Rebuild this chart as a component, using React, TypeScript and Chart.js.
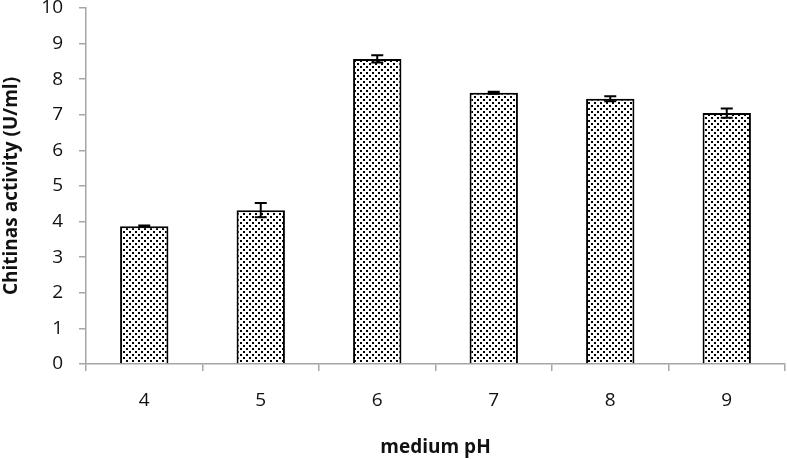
import React, { useEffect, useRef } from 'react';
import { Chart, registerables } from 'chart.js';
Chart.register(...registerables);

const categories = ['4', '5', '6', '7', '8', '9'];
const activity = [3.87, 4.32, 8.57, 7.62, 7.45, 7.05];
const errors = [0.02, 0.2, 0.1, 0.03, 0.07, 0.13];
const yTicks = [0, 1, 2, 3, 4, 5, 6, 7, 8, 9, 10];

const FONT = '"Open Sans", Lato, sans-serif';
const AXIS_GREY = '#a6a6a6';

function makePattern(): CanvasPattern | string {
  const c = document.createElement('canvas');
  c.width = 6;
  c.height = 6;
  const ctx = c.getContext('2d');
  if (!ctx) return '#ddd';
  ctx.fillStyle = '#ffffff';
  ctx.fillRect(0, 0, 6, 6);
  ctx.fillStyle = '#000000';
  ctx.fillRect(0, 0, 2, 2);
  ctx.fillRect(3, 3, 2, 2);
  const p = ctx.createPattern(c, 'repeat');
  return p || '#ddd';
}

const errorBarPlugin = {
  id: 'errorBars',
  afterDatasetsDraw(chart: any) {
    const ctx = chart.ctx;
    const meta = chart.getDatasetMeta(0);
    const yScale = chart.scales.y;
    ctx.save();
    ctx.strokeStyle = '#000';
    ctx.lineWidth = 2;
    meta.data.forEach((el: any, i: number) => {
      const v = activity[i];
      const e = errors[i];
      const x = el.x;
      const yt = yScale.getPixelForValue(v + e);
      const yb = yScale.getPixelForValue(v - e);
      ctx.beginPath();
      ctx.moveTo(x, yt);
      ctx.lineTo(x, yb);
      ctx.moveTo(x - 6, yt);
      ctx.lineTo(x + 6, yt);
      ctx.moveTo(x - 6, yb);
      ctx.lineTo(x + 6, yb);
      ctx.stroke();
    });
    ctx.restore();
  },
};

export default function App() {
  const ref = useRef<HTMLCanvasElement>(null);
  useEffect(() => {
    if (!ref.current) return;
    const chart = new Chart(ref.current, {
      type: 'bar',
      data: {
        labels: categories,
        datasets: [
          {
            data: activity,
            backgroundColor: makePattern() as any,
            borderColor: '#000',
            borderWidth: 2,
            barPercentage: 0.415,
            categoryPercentage: 1,
          },
        ],
      },
      options: {
        animation: false,
        responsive: true,
        maintainAspectRatio: false,
        layout: { padding: { left: 0, right: 2, top: 0, bottom: 0 } },
        plugins: {
          legend: { display: false },
          tooltip: { enabled: false },
        },
        scales: {
          x: {
            grid: {
              display: true,
              drawOnChartArea: false,
              drawTicks: true,
              tickLength: 7,
              color: AXIS_GREY,
              lineWidth: 1.5,
              offset: true,
            },
            border: { color: AXIS_GREY, width: 1.5 },
            ticks: { color: '#111', font: { family: FONT, size: 19 }, padding: 18 },
            title: {
              display: true,
              text: 'medium pH',
              color: '#111',
              font: { family: FONT, size: 19, weight: 'bold' },
              padding: { top: 0, bottom: 0 },
            },
            afterFit(scale: any) {
              scale.height = 95;
            },
          },
          y: {
            min: 0,
            max: 10,
            afterBuildTicks(scale: any) {
              scale.ticks = yTicks.map((v) => ({ value: v }));
            },
            grid: {
              display: true,
              drawOnChartArea: false,
              drawTicks: true,
              tickLength: 7,
              color: AXIS_GREY,
              lineWidth: 1.5,
            },
            border: { color: AXIS_GREY, width: 1.5 },
            ticks: { color: '#111', font: { family: FONT, size: 19 }, padding: 16 },
            title: {
              display: true,
              text: 'Chitinas activity (U/ml)',
              color: '#111',
              font: { family: FONT, size: 19, weight: 'bold' },
              padding: { top: 0.5, bottom: 0 },
            },
            afterFit(scale: any) {
              scale.width = 86;
              scale.paddingTop = 8;
            },
          },
        },
      },
      plugins: [errorBarPlugin],
    });
    return () => chart.destroy();
  }, []);
  return (
    <div style={{ position: 'fixed', left: 0, top: 0, width: 787, height: 459, background: '#fff' }}>
      <canvas ref={ref} />
    </div>
  );
}
